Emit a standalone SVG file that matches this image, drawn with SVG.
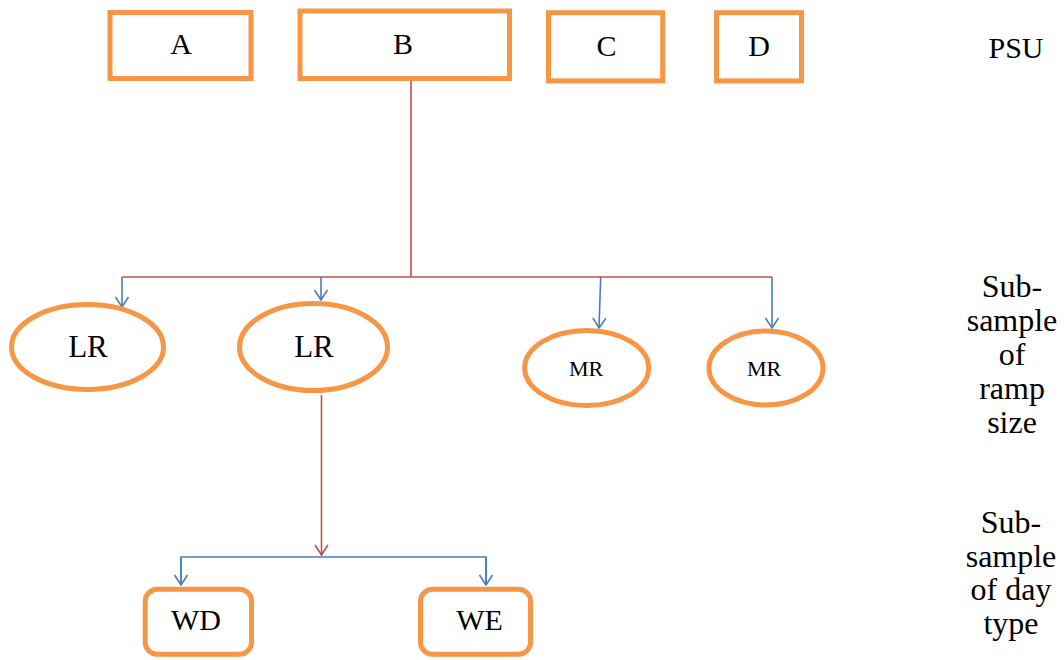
<svg xmlns="http://www.w3.org/2000/svg" width="1064" height="660" viewBox="0 0 1064 660">
<defs>
<style>
.box{fill:#fff;stroke:#F79646;stroke-width:5}
.ell{fill:#fff;stroke:#F79646;stroke-width:5}
text{font-family:'Liberation Serif','DejaVu Serif','Times New Roman',serif;fill:#000;text-anchor:middle}
.red{fill:none;stroke:#C0504D;stroke-width:1.6}
.blue{fill:none;stroke:#4A7EBB;stroke-width:1.6}
</style>
<marker id="ab" viewBox="-11 -8 12 16" markerWidth="12" markerHeight="16" refX="0" refY="0" orient="auto" markerUnits="userSpaceOnUse">
<path d="M-10,-6.5 L0,0 L-10,6.5" fill="none" stroke="#4A7EBB" stroke-width="1.6"/>
</marker>
<marker id="ar" viewBox="-11 -8 12 16" markerWidth="12" markerHeight="16" refX="0" refY="0" orient="auto" markerUnits="userSpaceOnUse">
<path d="M-10,-6.5 L0,0 L-10,6.5" fill="none" stroke="#C0504D" stroke-width="1.6"/>
</marker>
</defs>
<rect width="1064" height="660" fill="#fff"/>
<g id="connectors">
<line class="red" x1="411" y1="79" x2="411" y2="277"/>
<line class="red" x1="122" y1="277" x2="772" y2="277"/>
<line class="blue" x1="122" y1="277" x2="122" y2="307" marker-end="url(#ab)"/>
<line class="blue" x1="321" y1="277" x2="321" y2="300" marker-end="url(#ab)"/>
<line class="blue" x1="600.7" y1="277" x2="599" y2="328" marker-end="url(#ab)"/>
<line class="blue" x1="772" y1="277" x2="772" y2="328" marker-end="url(#ab)"/>
<line class="red" x1="321.5" y1="395" x2="321.5" y2="555" marker-end="url(#ar)"/>
<polyline class="blue" points="181,585 181,557 486,557 486,585"/>
<line class="blue" x1="181" y1="557" x2="181" y2="585" marker-end="url(#ab)"/>
<line class="blue" x1="486" y1="557" x2="486" y2="585" marker-end="url(#ab)"/>
</g>
<g font-family="Liberation Serif, DejaVu Serif, serif">
<g id="A"><rect class="box" x="110" y="12.5" width="141" height="66"/><text x="181" y="54" font-size="30">A</text></g>
<g id="B"><rect class="box" x="300" y="11" width="209.5" height="67.5"/><text x="403" y="54" font-size="30">B</text></g>
<g id="C"><rect class="box" x="548.5" y="12.7" width="114.2" height="68.2"/><text x="606.5" y="56" font-size="30">C</text></g>
<g id="D"><rect class="box" x="716.5" y="12.7" width="85" height="68.2"/><text x="759" y="56" font-size="30">D</text></g>
<g id="PSU"><text x="1016" y="58" font-size="30">PSU</text></g>
<g id="LR1"><ellipse class="ell" cx="87.5" cy="347" rx="76" ry="42.5"/><text x="88" y="357" font-size="31">LR</text></g>
<g id="LR2"><ellipse class="ell" cx="313.5" cy="347" rx="74" ry="43.5"/><text x="314" y="357" font-size="31">LR</text></g>
<g id="MR1"><ellipse class="ell" cx="586.7" cy="368" rx="62" ry="37.5"/><text x="586" y="375.5" font-size="22">MR</text></g>
<g id="MR2"><ellipse class="ell" cx="766" cy="368" rx="57" ry="37"/><text x="764" y="375.5" font-size="22">MR</text></g>
<g id="label-ramp">
<text x="1012" y="297" font-size="32">Sub-</text>
<text x="1012" y="331" font-size="32">sample</text>
<text x="1012" y="365" font-size="32">of</text>
<text x="1012" y="399" font-size="32">ramp</text>
<text x="1012" y="433" font-size="32">size</text>
</g>
<g id="WD"><rect class="box" x="145.2" y="589.2" width="106.3" height="65" rx="12"/><text x="196" y="630" font-size="30">WD</text></g>
<g id="WE"><rect class="box" x="420.5" y="589.2" width="110" height="65" rx="12"/><text x="479.5" y="630" font-size="30">WE</text></g>
<g id="label-day">
<text x="1011" y="533" font-size="32">Sub-</text>
<text x="1011" y="567" font-size="32">sample</text>
<text x="1011" y="600" font-size="32">of day</text>
<text x="1011" y="634" font-size="32">type</text>
</g>
</g>
</svg>
